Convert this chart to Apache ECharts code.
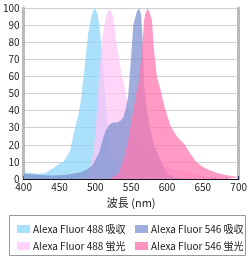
<!DOCTYPE html>
<html><head><meta charset="utf-8">
<script src="https://cdn.jsdelivr.net/npm/echarts@6/dist/echarts.min.js"></script>
<style>html,body{margin:0;padding:0;background:#fff}#c{width:250px;height:260px}</style>
</head><body><div id="c"></div>
<script>
var names = ['Alexa Fluor 488 吸収','Alexa Fluor 488 蛍光','Alexa Fluor 546 吸収','Alexa Fluor 546 蛍光'];
var xTicks = [400,450,500,550,600,650,700];
var yTicks = [0,10,20,30,40,50,60,70,80,90,100];

var abs488Wl = [400,410,420,430,440,450,455,460,465,470,476,480,485,490,495,499,503,507,510,514,518,522,526,530,540,550];
var abs488 =   [4,3.5,3,3.5,6,9,10,13,17,27,37,46,65,85,96,100,97,85,70,46,28,15,8,4,1,0];

var em488Wl = [470,480,490,495,500,503,506,510,515,520,525,528,530,535,540,544,550,555,560,570,580,590,600,618,650,700];
var em488 =   [0,1,3,10,25,45,65,83,95,100,95,85,78,65,55,46,36,30,25,18,12,9,7,5,1.5,0];

var abs546Wl = [400,420,440,460,480,490,496,505,514,520,525,530,535,539,543,546,550,553,558,561,564,566,568,572,576,582,589,595,600,610,620];
var abs546 =   [3,2.5,2,2.5,4,6,8,15,28,32,33,33,34,36,42,49,72,90,98,100,96,80,55,40,30,20,13,7,3,1,0];

var em546Wl = [520,532,540,546,550,557,560,565,568,570,573,576,579,582,586,591,595,598,605,612,618,625,632,641,650,659,670,682,700];
var em546 =   [0,3,12,23,33,50,55,75,93,97,100,97,93,75,60,52,45,40,31,26,23,20,15,10,7,5.3,3.5,2.3,1];

var colors = ['#8ed6f8','#fdc6f6','#7f93d0','#ff78b0'];
var swatch = ['#aae0fa','#fed4f8','#9faedc','#ff94c2'];
function pairs(w,v){return w.map(function(x,i){return [x,v[i]];});}
var dataSets = [pairs(abs488Wl,abs488),pairs(em488Wl,em488),pairs(abs546Wl,abs546),pairs(em546Wl,em546)];
var font = '"Noto Sans CJK JP", sans-serif';
function legItem(i){return {name:names[i],itemStyle:{color:swatch[i]}};}
var chart = echarts.init(document.getElementById('c'));
chart.setOption({
  animation:false,
  textStyle:{fontFamily:font},
  color:colors,
  grid:{left:19,right:9,top:8,bottom:81,containLabel:false},
  xAxis:[{
    type:'value',min:xTicks[0],max:xTicks[xTicks.length-1],interval:50,
    name:'波長 (nm)',nameLocation:'middle',nameGap:18,
    nameTextStyle:{fontSize:11,color:'#222',fontFamily:font},
    axisLine:{lineStyle:{color:'#2a2a50',width:1}},
    axisTick:{show:true,inside:true,length:3,lineStyle:{color:'#2a2a50'}},
    minorTick:{show:true,splitNumber:3,length:2,lineStyle:{color:'#2a2a50'}},
    axisLabel:{fontSize:10,color:'#222',margin:3,fontFamily:font},
    splitLine:{show:false}
  },{
    type:'value',position:'top',min:400,max:700,
    axisLine:{show:true,lineStyle:{color:'#111',width:1}},
    axisTick:{show:false},axisLabel:{show:false},splitLine:{show:false}
  }],
  yAxis:[{
    type:'value',min:0,max:100,interval:10,
    axisLine:{show:true,lineStyle:{color:'#bbb',width:3}},
    axisTick:{show:false},
    axisLabel:{fontSize:10,color:'#222',margin:4,fontFamily:font},
    splitLine:{lineStyle:{color:'#d0d0d0',width:1}}
  },{
    type:'value',position:'right',min:0,max:100,
    axisLine:{show:true,lineStyle:{color:'#bbb',width:3}},
    axisTick:{show:false},axisLabel:{show:false},splitLine:{show:false}
  }],
  legend:[{
    orient:'vertical',left:12,top:219,itemWidth:13,itemHeight:8,itemGap:7,
    icon:'rect',data:[legItem(0),legItem(1)],
    textStyle:{fontSize:10,color:'#1a1a1a',fontFamily:font,padding:[0,0,0,-2]}
  },{
    orient:'vertical',left:130,top:219,itemWidth:13,itemHeight:8,itemGap:7,
    icon:'rect',data:[legItem(2),legItem(3)],
    textStyle:{fontSize:10,color:'#1a1a1a',fontFamily:font,padding:[0,0,0,-2]}
  }],
  graphic:[{type:'rect',left:7,top:213,shape:{width:236,height:40},
    style:{fill:'none',stroke:'#999',lineWidth:1},silent:true}],
  series:dataSets.map(function(d,i){
    return {type:'line',name:names[i],data:d,showSymbol:false,symbol:'none',
      lineStyle:{width:0,color:colors[i]},itemStyle:{color:colors[i]},
      areaStyle:{color:colors[i],opacity:0.75},z:2+i};
  })
});
</script></body></html>
